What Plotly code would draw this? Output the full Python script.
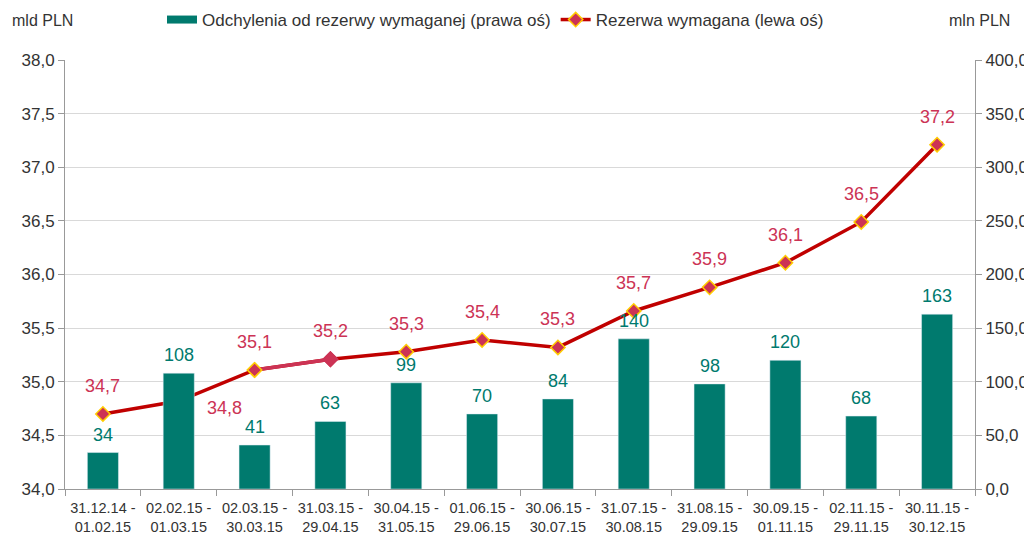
import plotly.graph_objects as go

categories = ["31.12.14 -<br>01.02.15", "02.02.15 -<br>01.03.15", "02.03.15 -<br>30.03.15",
              "31.03.15 -<br>29.04.15", "30.04.15 -<br>31.05.15", "01.06.15 -<br>29.06.15",
              "30.06.15 -<br>30.07.15", "31.07.15 -<br>30.08.15", "31.08.15 -<br>29.09.15",
              "30.09.15 -<br>01.11.15", "02.11.15 -<br>29.11.15", "30.11.15 -<br>30.12.15"]
deviation = [34, 108, 41, 63, 99, 70, 84, 140, 98, 120, 68, 163]
reserve = [34.70, 34.82, 35.11, 35.21, 35.28, 35.39, 35.32, 35.66, 35.88, 36.11, 36.49, 37.21]
reserve_label_side = [False, True, False, False, False, False, False, False, False, False, False, False]

TEAL = "#007a6e"
RED = "#c00000"
PINK = "#cc3355"
FONT = "Liberation Sans, Arial, sans-serif"
TXT = "#333333"

W, H = 1024, 526  # page body has an 8px margin

fig = go.Figure()
fig.add_trace(go.Bar(x=categories, y=deviation, yaxis="y2", marker_color=TEAL,
                     width=0.41, showlegend=False, hoverinfo="x+y"))
# legend entry for bars (wide rectangle swatch)
fig.add_trace(go.Scatter(x=[None], y=[None], mode="lines", line=dict(color=TEAL, width=8),
                         name="Odchylenia od rezerwy wymaganej (prawa oś)"))
line_colors = ["#ffcc00"] * len(reserve)
line_colors[3] = PINK
fig.add_trace(go.Scatter(x=categories, y=reserve, yaxis="y", mode="lines+markers",
                         line=dict(color=RED, width=3.5),
                         marker=dict(symbol="diamond", size=11, color=PINK,
                                     line=dict(color=line_colors, width=1.5)),
                         name="Rezerwa wymagana (lewa oś)"))
# highlighted segment
fig.add_trace(go.Scatter(x=categories[2:4], y=reserve[2:4], yaxis="y", mode="lines",
                         line=dict(color=PINK, width=3.5), showlegend=False, hoverinfo="skip"))
fig.add_trace(go.Scatter(x=categories[2:4], y=reserve[2:4], yaxis="y", mode="markers",
                         marker=dict(symbol="diamond", size=11, color=PINK,
                                     line=dict(color=line_colors[2:4], width=1.5)),
                         showlegend=False, hoverinfo="skip"))

annotations = []
for c, v, side in zip(categories, reserve, reserve_label_side):
    annotations.append(dict(x=c, y=v, xref="x", yref="y", text=f"{v:.1f}".replace(".", ","),
                            showarrow=False, yshift=-7 if side else 28, xshift=46 if side else 0,
                            font=dict(family=FONT, size=18, color=PINK)))
for c, v in zip(categories, deviation):
    annotations.append(dict(x=c, y=v, xref="x", yref="y2", text=str(v),
                            showarrow=False, yshift=18,
                            font=dict(family=FONT, size=18, color=TEAL)))
annotations += [
    dict(xref="paper", yref="paper", x=0, y=1, xshift=-55, yshift=40, xanchor="left", yanchor="middle",
         text="mld PLN", showarrow=False, font=dict(family=FONT, size=16, color=TXT)),
    dict(xref="paper", yref="paper", x=1, y=1, xshift=37, yshift=40, xanchor="right", yanchor="middle",
         text="mln PLN", showarrow=False, font=dict(family=FONT, size=16, color=TXT)),
]

fig.update_layout(
    width=W, height=H,
    margin=dict(l=57, r=57, t=52, b=45, autoexpand=False),
    paper_bgcolor="white", plot_bgcolor="white",
    separators=", ",
    font=dict(family=FONT, size=16, color=TXT),
    showlegend=True,
    legend=dict(orientation="h", x=487.5 / W, xanchor="center", xref="container",
                y=1 - 12 / H, yanchor="middle", yref="container",
                font=dict(family=FONT, size=17, color=TXT), traceorder="normal",
                bgcolor="rgba(0,0,0,0)"),
    xaxis=dict(type="category", range=[-0.5, len(categories) - 0.5],
               showgrid=False, showline=True, linecolor="#999", linewidth=1,
               ticks="outside", tickson="boundaries", ticklen=6, tickcolor="#999",
               ticklabelstandoff=6, tickangle=0,
               automargin=False, tickfont=dict(family=FONT, size=14.5, color=TXT)),
    yaxis=dict(range=[34, 38], dtick=0.5, tickformat=".1f", showgrid=True, gridcolor="#d9d9d9",
               gridwidth=1, showline=True, linecolor="#999", ticks="outside", ticklen=6,
               tickcolor="#999", zeroline=False, automargin=False,
               tickfont=dict(family=FONT, size=17, color=TXT)),
    yaxis2=dict(range=[0, 400], dtick=50, tickformat=".1f", overlaying="y", side="right",
                showgrid=False, showline=True, linecolor="#999", ticks="outside", ticklen=6,
                tickcolor="#999", zeroline=False, automargin=False,
                tickfont=dict(family=FONT, size=17, color=TXT)),
    annotations=annotations,
)
fig.write_html("out.html")
